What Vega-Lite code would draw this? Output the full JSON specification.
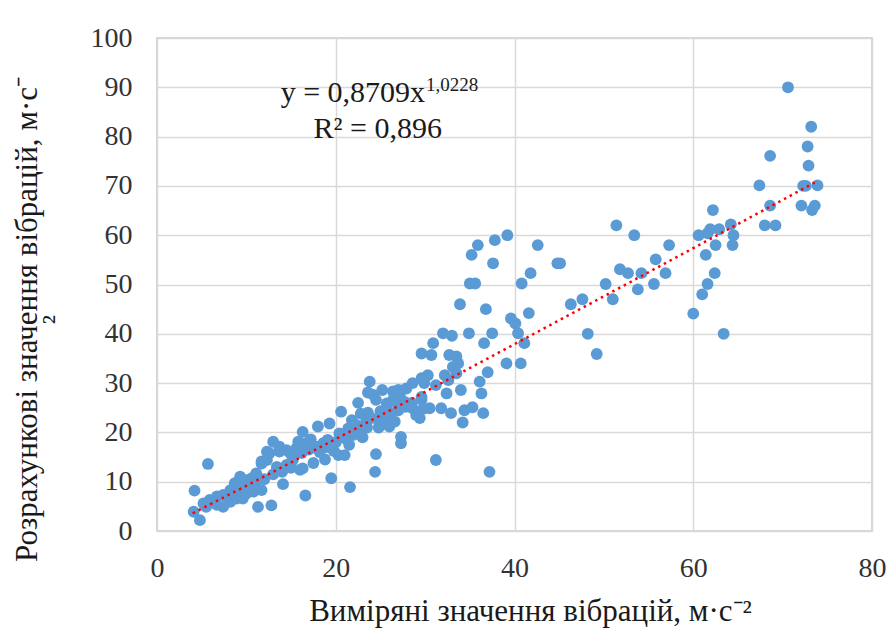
{
  "$schema": "https://vega.github.io/schema/vega-lite/v6.json",
  "width": 715,
  "height": 493,
  "autosize": "none",
  "padding": {"left": 157, "top": 38, "right": 19, "bottom": 97},
  "background": "white",
  "config": {
    "view": {"stroke": "#C8C8C8", "strokeWidth": 1.5},
    "font": "Liberation Serif"
  },
  "datasets": {
    "pts": [
      {"x":70.6,"y":90},{"x":73.2,"y":82},{"x":72.8,"y":78},{"x":72.9,"y":74.1},{"x":68.6,"y":76.1},{"x":67.4,"y":70.1},{"x":72.3,"y":70},{"x":72.6,"y":70},{"x":73.9,"y":70.1},{"x":72.1,"y":66},{"x":73.6,"y":66},{"x":73.3,"y":65.1},{"x":68.6,"y":66},{"x":68.0,"y":62},{"x":69.2,"y":62},{"x":62.2,"y":65.1},{"x":60.6,"y":60},{"x":61.6,"y":60.4},{"x":61.9,"y":61.2},{"x":62.9,"y":61.2},{"x":64.2,"y":62.2},{"x":64.5,"y":60},{"x":62.5,"y":58},{"x":64.4,"y":58},{"x":61.4,"y":56},{"x":62.4,"y":52.3},{"x":61.6,"y":50.1},{"x":61.0,"y":48},{"x":60.0,"y":44.1},{"x":63.4,"y":40},{"x":51.4,"y":62},{"x":53.4,"y":60},{"x":57.3,"y":58},{"x":55.8,"y":55.1},{"x":51.8,"y":53.1},{"x":52.7,"y":52.3},{"x":54.2,"y":52.3},{"x":56.9,"y":52.3},{"x":50.2,"y":50.1},{"x":53.8,"y":49},{"x":55.6,"y":50.1},{"x":51.0,"y":47},{"x":47.6,"y":47},{"x":46.3,"y":46},{"x":48.2,"y":40},{"x":49.2,"y":35.9},{"x":45.1,"y":54.3},
      {"x":39.2,"y":60},{"x":37.8,"y":59},{"x":35.9,"y":58},{"x":35.2,"y":56},{"x":42.6,"y":58},{"x":37.6,"y":54.3},{"x":44.8,"y":54.3},{"x":41.8,"y":52.3},{"x":35.0,"y":50.2},{"x":35.6,"y":50.2},{"x":40.8,"y":50.2},{"x":33.9,"y":46},{"x":36.8,"y":45},{"x":41.6,"y":44.2},{"x":39.6,"y":43.1},{"x":40.1,"y":42.1},{"x":40.4,"y":40.1},{"x":32.0,"y":40.1},{"x":33.0,"y":39.6},{"x":34.9,"y":40.1},{"x":37.5,"y":40.1},{"x":36.6,"y":38.1},{"x":41.1,"y":38.1},{"x":30.9,"y":38.1},{"x":29.6,"y":36.0},{"x":30.7,"y":35.7},{"x":32.7,"y":35.7},{"x":33.5,"y":35.4},{"x":33.7,"y":34.0},{"x":33.1,"y":33.3},{"x":39.1,"y":34.0},{"x":40.7,"y":34.0},{"x":37.0,"y":32.2},{"x":30.3,"y":31.6},{"x":29.6,"y":31.0},{"x":29.9,"y":30.0},{"x":32.2,"y":31.6},{"x":32.6,"y":30.6},{"x":31.2,"y":29.6},{"x":36.1,"y":30.3},{"x":36.3,"y":27.9},{"x":34.0,"y":28.6},{"x":32.4,"y":27.9},{"x":29.6,"y":27.2},{"x":33.5,"y":32.0},
      {"x":23.8,"y":30.3},{"x":23.6,"y":28.1},{"x":24.2,"y":27.6},{"x":25.2,"y":28.6},{"x":26.4,"y":28.3},{"x":27.0,"y":28.6},{"x":27.9,"y":28.9},{"x":28.6,"y":30.0},{"x":22.5,"y":26.0},{"x":24.5,"y":26.6},{"x":25.7,"y":25.9},{"x":26.4,"y":26.6},{"x":27.2,"y":27.2},{"x":27.7,"y":26.2},{"x":20.6,"y":24.2},{"x":28.6,"y":24.9},{"x":29.0,"y":23.5},{"x":29.4,"y":22.9},{"x":30.5,"y":24.9},{"x":31.8,"y":24.9},{"x":32.9,"y":23.9},{"x":34.4,"y":24.5},{"x":35.3,"y":25.1},{"x":36.5,"y":23.9},{"x":34.2,"y":22.0},{"x":26.0,"y":21.2},{"x":26.6,"y":22.2},{"x":27.3,"y":19.1},{"x":27.3,"y":17.8},{"x":24.5,"y":15.6},{"x":24.4,"y":12.0},{"x":18.0,"y":21.2},{"x":19.3,"y":21.8},{"x":20.4,"y":19.8},{"x":21.4,"y":20.8},{"x":22.3,"y":21.5},{"x":23.4,"y":22.2},{"x":24.0,"y":22.9},{"x":29.6,"y":26.6},{"x":29.8,"y":24.8},{"x":31.2,"y":14.4},{"x":37.2,"y":12.0},{"x":21.6,"y":8.9},{"x":19.5,"y":10.7},{"x":16.6,"y":7.2},{"x":16.3,"y":20.1},{"x":13.0,"y":18.1},{"x":15.8,"y":18.1},{"x":16.7,"y":17.8},{"x":17.8,"y":17.1},{"x":18.6,"y":17.8},{"x":19.1,"y":18.5},{"x":12.3,"y":16.1},{"x":13.7,"y":16.1},{"x":14.5,"y":16.4},{"x":15.2,"y":15.1},{"x":16.2,"y":15.8},{"x":20.3,"y":15.4},{"x":21.0,"y":15.4},{"x":11.7,"y":14.1},{"x":16.3,"y":12.7},{"x":16.0,"y":12.4},{"x":14.1,"y":9.5},{"x":5.7,"y":13.6},{"x":4.2,"y":8.2},{"x":4.1,"y":3.9},{"x":4.8,"y":2.2},{"x":5.2,"y":5.6},{"x":5.9,"y":6.3},{"x":6.7,"y":7.0},{"x":7.4,"y":7.3},{"x":8.2,"y":8.3},{"x":8.7,"y":9.7},{"x":9.3,"y":11.0},{"x":10.0,"y":10.3},{"x":10.6,"y":10.7},{"x":11.1,"y":11.7},{"x":11.7,"y":13.7},{"x":12.3,"y":14.4},{"x":12.6,"y":15.8},{"x":11.3,"y":4.9},{"x":12.8,"y":5.2},{"x":6.7,"y":5.3},{"x":7.4,"y":4.9},{"x":8.2,"y":5.9},{"x":8.9,"y":6.6},{"x":9.6,"y":6.6},{"x":10.0,"y":7.6},{"x":10.8,"y":8.0},{"x":11.7,"y":8.3},{"x":13.4,"y":13.0},{"x":14.5,"y":13.4},{"x":15.2,"y":14.4},{"x":13.7,"y":17.1},{"x":14.9,"y":15.8},
      {"x":17.0,"y":16.5},{"x":18.2,"y":16.0},{"x":19.0,"y":17.0},{"x":20.0,"y":18.0},{"x":21.0,"y":18.8},{"x":22.0,"y":19.5},{"x":22.8,"y":20.4},{"x":23.5,"y":21.0},{"x":25.0,"y":22.0},{"x":25.5,"y":23.0},{"x":26.2,"y":23.8},{"x":27.0,"y":24.5},{"x":27.8,"y":25.2},{"x":28.5,"y":26.0},{"x":21.5,"y":17.5},{"x":23.0,"y":19.0},{"x":24.8,"y":21.0},{"x":25.8,"y":24.5},{"x":9.0,"y":8.5},{"x":9.5,"y":9.0},{"x":10.3,"y":9.3},{"x":11.0,"y":9.8},{"x":12.0,"y":10.5},{"x":13.0,"y":11.5},{"x":14.0,"y":12.0},{"x":15.0,"y":12.8},{"x":7.8,"y":6.8},{"x":8.5,"y":7.5},{"x":6.2,"y":5.8},{"x":5.5,"y":4.9},{"x":18.8,"y":14.5},{"x":19.8,"y":16.2},{"x":17.5,"y":13.8},{"x":15.6,"y":16.8},{"x":17.2,"y":18.6},{"x":21.8,"y":22.5},{"x":22.8,"y":23.8},{"x":26.8,"y":26.0},{"x":25.0,"y":24.3},{"x":23.6,"y":24.0}
    ],
    "trend": [
      {"x":4,"y":3.595},{"x":10,"y":9.178},{"x":20,"y":18.65},{"x":30,"y":28.23},{"x":40,"y":37.89},{"x":50,"y":47.61},{"x":60,"y":57.37},{"x":70,"y":67.16},{"x":73.6,"y":70.7}
    ],
    "eq": [
      {"x":30.0,"y":87.0,"t":"y = 0,8709x"}
    ],
    "sup": [
      {"x":30.1,"y":89.3,"t":"1,0228"}
    ],
    "r2": [
      {"x":24.7,"y":79.7,"t":"R² = 0,896"}
    ]
  },
  "encoding": {
    "x": {
      "field": "x", "type": "quantitative",
      "scale": {"domain": [0, 80], "nice": false},
      "axis": {
        "values": [0, 20, 40, 60, 80],
        "ticks": false, "domain": false,
        "grid": true, "gridColor": "#D9D9D9", "gridWidth": 1.5,
        "labelFont": "Liberation Serif", "labelFontSize": 28, "labelColor": "#333333",
        "labelPadding": 23, "labelFlush": false,
        "title": "Виміряні значення вібрацій, м·с⁻²",
        "titleFont": "Liberation Serif", "titleFontSize": 31, "titleFontWeight": "normal", "titleColor": "#1a1a1a",
        "titleX": 373, "titleY": 89, "titleAlign": "center", "titleBaseline": "alphabetic"
      }
    },
    "y": {
      "field": "y", "type": "quantitative",
      "scale": {"domain": [0, 100], "nice": false},
      "axis": {
        "values": [0, 10, 20, 30, 40, 50, 60, 70, 80, 90, 100],
        "ticks": false, "domain": false,
        "grid": true, "gridColor": "#D9D9D9", "gridWidth": 1.5,
        "labelFont": "Liberation Serif", "labelFontSize": 28, "labelColor": "#333333",
        "labelPadding": 25,
        "title": ["Розрахункові значення вібрацій, м·с⁻", "²"],
        "titleFont": "Liberation Serif", "titleFontSize": 31, "titleFontWeight": "normal", "titleColor": "#1a1a1a",
        "titleAngle": -90, "titleX": -121, "titleY": 281, "titleAlign": "center", "titleBaseline": "alphabetic", "titleLineHeight": 26
      }
    }
  },
  "layer": [
    {
      "data": {"name": "pts"},
      "mark": {"type": "circle", "size": 140, "color": "#5B9BD5", "opacity": 1}
    },
    {
      "data": {"name": "trend"},
      "mark": {"type": "line", "color": "#FF0000", "strokeWidth": 2.5, "strokeDash": [2.5, 4]}
    },
    {
      "data": {"name": "eq"},
      "mark": {"type": "text", "align": "right", "baseline": "alphabetic", "font": "Liberation Serif", "fontSize": 30, "color": "#1a1a1a"},
      "encoding": {"text": {"field": "t"}}
    },
    {
      "data": {"name": "sup"},
      "mark": {"type": "text", "align": "left", "baseline": "alphabetic", "font": "Liberation Serif", "fontSize": 19, "color": "#1a1a1a"},
      "encoding": {"text": {"field": "t"}}
    },
    {
      "data": {"name": "r2"},
      "mark": {"type": "text", "align": "center", "baseline": "alphabetic", "font": "Liberation Serif", "fontSize": 30, "color": "#1a1a1a"},
      "encoding": {"text": {"field": "t"}}
    }
  ]
}
